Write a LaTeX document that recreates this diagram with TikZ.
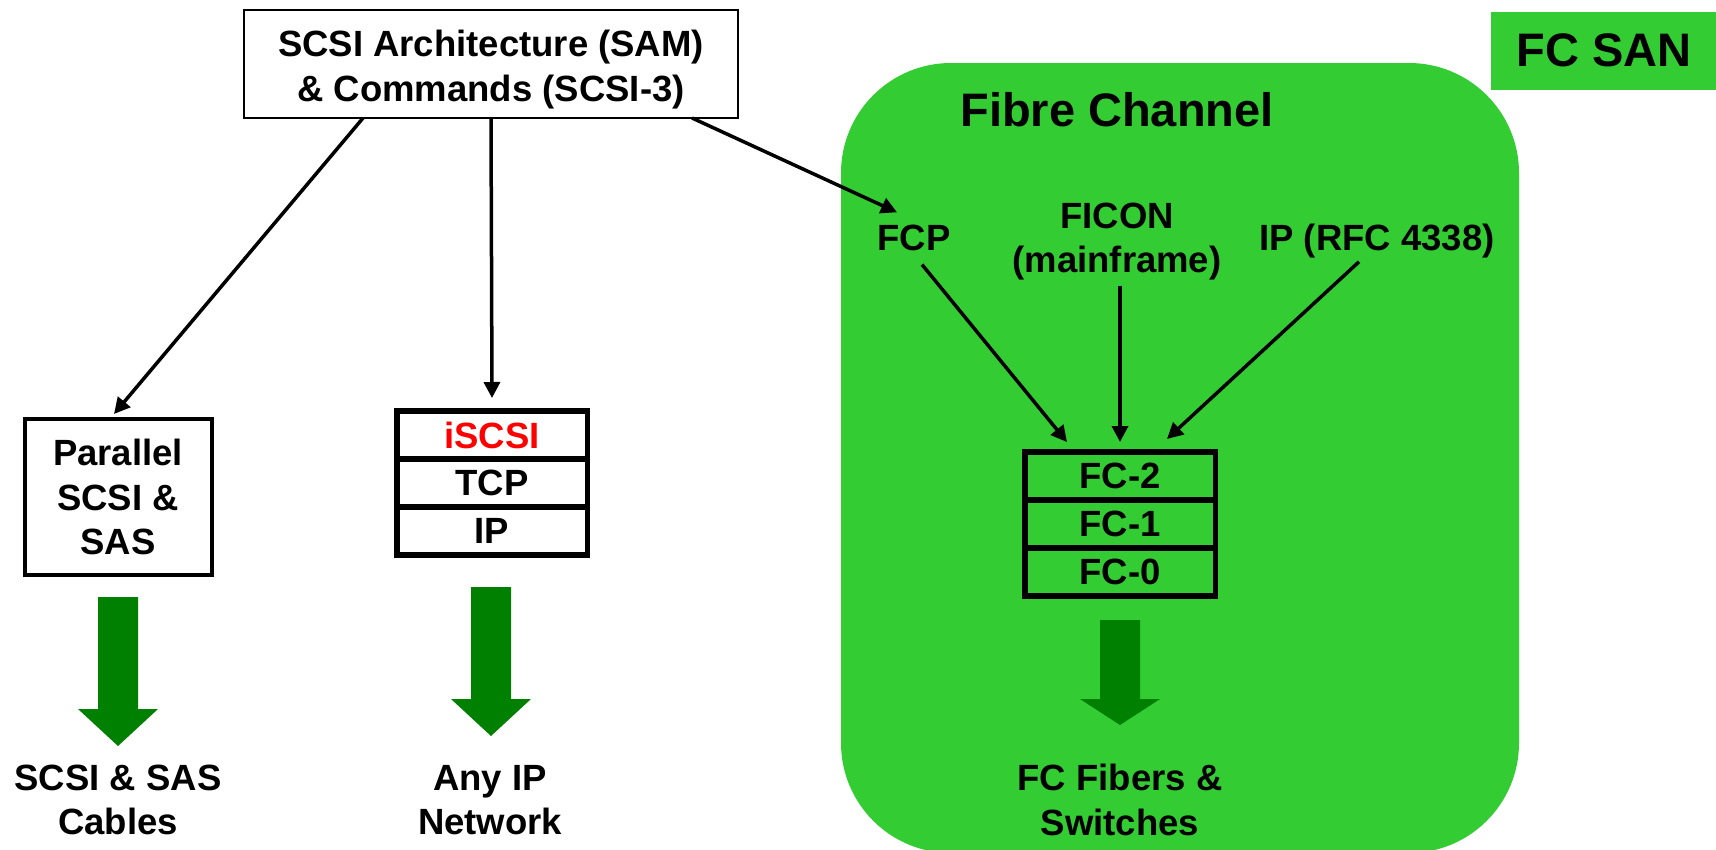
\documentclass[tikz,border=0pt]{standalone}
\usepackage{fontspec}
\setmainfont{Liberation Sans}
\usetikzlibrary{arrows.meta,calc}
\definecolor{fcgreen}{RGB}{51,204,51}
\definecolor{pipegreen}{RGB}{0,128,0}
\definecolor{labelred}{RGB}{255,0,0}
\newcommand\bodyfont{\bfseries\fontsize{36.5}{44.5}\selectfont}
\newcommand\titlefont{\bfseries\fontsize{47}{54}\selectfont}

\begin{document}
\begin{tikzpicture}[x=1pt,y=-1pt,
  lbl/.style={font=\bodyfont, align=center, inner sep=2pt},
  framebox/.style={lbl, draw, line width=2.5pt, outer sep=0pt},
  layer/.style={lbl, draw, line width=5.5pt, minimum width=190.5pt,
                minimum height=48pt, inner sep=0pt, outer sep=0pt},
  conn/.style={line width=3.5pt, -{Triangle[length=16pt,width=16pt]}},
  pipe/.style={fill=pipegreen}]

% page
\useasboundingbox (0,0) rectangle (1716,849);
\fill[white] (0,0) rectangle (1716,849);

% Fibre Channel region and SAN tag
\fill[fcgreen, rounded corners=110pt] (841,63) rectangle (1519,853);
\node[fill=fcgreen, font=\titlefont, minimum width=226pt, minimum height=78pt,
      inner sep=0pt] (san) at (1604,50.5) {FC SAN};
\node[font=\titlefont, inner sep=0pt] (fibre) at (1117,109.5) {Fibre Channel};

% SCSI architecture box
\node[framebox, minimum width=494pt, minimum height=108pt] (top) at (491,64)
  {\rule{0pt}{38pt}SCSI Architecture (SAM)\\\& Commands (SCSI-3)};

% parallel SCSI
\node[framebox, line width=4pt, minimum width=187pt, minimum height=156pt]
  (par) at (118,497) {Parallel\\SCSI \&\\SAS};

% iSCSI stack
\node[layer, fill=white, text=labelred] (isc) at (492,435) {iSCSI};
\node[layer, fill=white] (tcp) at (492,483) {TCP};
\node[layer, fill=white] (ipl) at (492,531) {IP};

% FC upper-layer protocols
\node[lbl, anchor=base] (fcp) at (914,250) {FCP};
\node[lbl] (ficon) at (1117,241.6) {FICON\\(mainframe)};
\node[lbl, anchor=base] (ipfc) at (1377,250) {IP (RFC 4338)};

% FC stack
\node[layer] (fc2) at (1120,476) {FC-2};
\node[layer] (fc1) at (1120,524) {FC-1};
\node[layer] (fc0) at (1120,572) {FC-0};

% transports
\node[lbl] (cables) at (118,800) {SCSI \& SAS\\Cables};
\node[lbl] (ipnet) at (490,800) {Any IP\\Network};
\node[lbl] (fabric) at (1120,800) {FC Fibers \&\\Switches};

% broad downward arrows
\fill[pipe] (98,597) -- (138,597) -- (138,709) -- (158,709) -- (118,746)
  -- (78,709) -- (98,709) -- cycle;
\fill[pipe] (471,587) -- (511,587) -- (511,699) -- (531,699) -- (491,736)
  -- (451,699) -- (471,699) -- cycle;
\fill[pipe] (1100,620) -- (1140,620) -- (1140,699) -- (1160,699) -- (1120,725)
  -- (1080,699) -- (1100,699) -- cycle;

% connectors
\draw[conn] ($(top.south west)!0.241!(top.south east)$) -- ($(par.north)+(-4,-5)$);
\draw[conn] (top.south) -- ($(isc.north)+(0,-13)$);
\draw[conn] ($(top.south west)!0.907!(top.south east)$) -- ($(fcp.north)+(-17,-10)$);

\draw[conn] ($(fcp.south)+(8,12)$) -- ($(fc2.north)+(-53,-10)$);
\draw[conn] ($(ficon.south -| fc2.north)+(0,3)$) -- ($(fc2.north)+(0,-10)$);
\draw[conn] ($(ipfc.south)+(-18,2)$) -- ($(fc2.north)+(47,-13)$);
\end{tikzpicture}
\end{document}
